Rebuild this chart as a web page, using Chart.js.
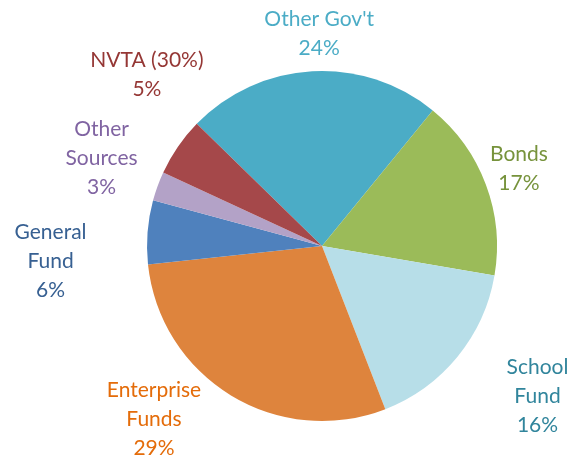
<!DOCTYPE html>
<html>
<head>
<meta charset="utf-8">
<script src="https://cdn.jsdelivr.net/npm/chart.js@4/dist/chart.umd.min.js"></script>
<style>
  html, body { margin: 0; padding: 0; background: #fff; }
  .wrap { width: 577px; height: 456px; }
</style>
</head>
<body>
<div class="wrap"><canvas class="fund-chart"></canvas></div>
<script>
const categories = ["Other Gov't", 'Bonds', 'School Fund', 'Enterprise Funds', 'General Fund', 'Other Sources', 'NVTA (30%)']
const labelLines = [["Other Gov't"], ['Bonds'], ['School', 'Fund'], ['Enterprise', 'Funds'], ['General', 'Fund'], ['Other', 'Sources'], ['NVTA (30%)']]
const shares = [23.6, 16.8, 16.4, 29.2, 5.9, 2.7, 5.4]

const sliceColors = ['#4BACC6', '#9BBB59', '#B7DEE8', '#DE843D', '#4F81BD', '#B3A2C7', '#A5484A']
const textColors = ['#4BACC6', '#77933C', '#31859C', '#E46C0A', '#376092', '#8064A2', '#953735']
// label box centre, offset from the rim point at the slice's middle angle
const labelShift = [[7, -39], [33, -17], [80, 38], [-77, 23], [-97, 28], [-56, -29], [-31, -73]]

const outsideLabels = {
    id: 'outsideLabels',
    afterDatasetsDraw(chart) {
        const c = chart.ctx
        const arcs = chart.getDatasetMeta(0).data
        c.save()
        c.font = '21px Lato'
        c.textAlign = 'center'
        c.textBaseline = 'middle'
        const lh = 29
        arcs.forEach((arc, i) => {
            const p = arc.getProps(['x', 'y', 'startAngle', 'endAngle', 'outerRadius'], true)
            const mid = (p.startAngle + p.endAngle) / 2
            const lines = labelLines[i].concat([Math.round(shares[i]) + '%'])
            const h = lines.length * lh
            const cx = p.x + Math.cos(mid) * p.outerRadius + labelShift[i][0]
            const cy = p.y + Math.sin(mid) * p.outerRadius + labelShift[i][1]
            c.fillStyle = textColors[i]
            lines.forEach((l, k) => {
                c.fillText(l, cx, cy - h / 2 + lh / 2 + k * lh + 1)
            })
        })
        c.restore()
    }
}

new Chart(document.querySelector('.fund-chart'), {
    type: 'pie',
    data: {
        labels: categories,
        datasets: [{
            data: shares,
            backgroundColor: sliceColors,
            borderWidth: 0,
            hoverOffset: 0
        }]
    },
    options: {
        responsive: true,
        maintainAspectRatio: false,
        rotation: -45.7,
        layout: {
            padding: { left: 147, right: 80, top: 71, bottom: 35 }
        },
        plugins: {
            legend: { display: false },
            tooltip: { enabled: false }
        },
        animation: false
    },
    plugins: [outsideLabels]
})
</script>
</body>
</html>
